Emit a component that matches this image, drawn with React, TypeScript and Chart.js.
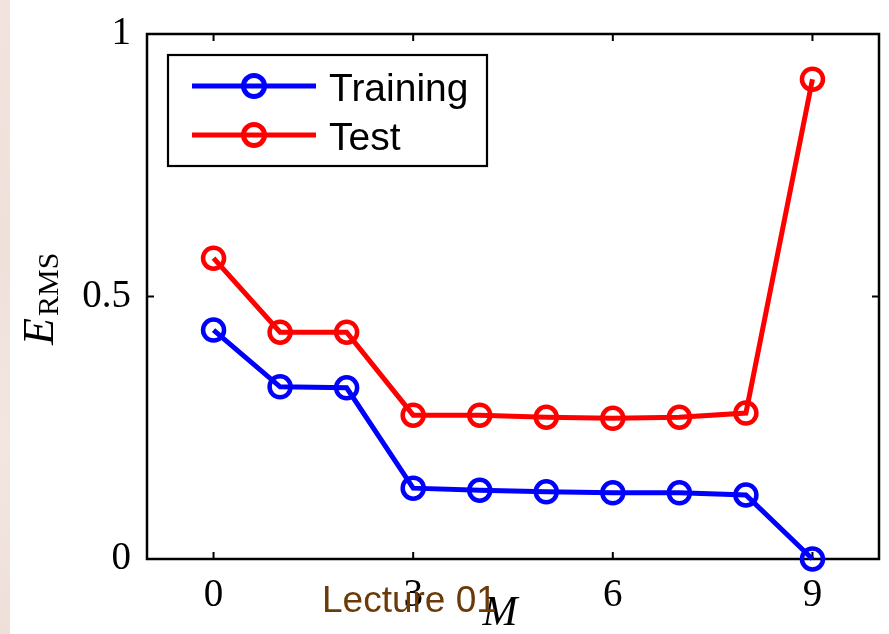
import React, { useEffect, useRef } from "react";
import { Chart, registerables } from "chart.js";

Chart.register(...registerables);

// ---- data ----
const modelOrders = [0, 1, 2, 3, 4, 5, 6, 7, 8, 9];
const trainingErr = [0.436, 0.328, 0.326, 0.135, 0.131, 0.128, 0.126, 0.126, 0.122, 0.0];
const testErr = [0.573, 0.432, 0.432, 0.274, 0.274, 0.27, 0.268, 0.27, 0.278, 0.914];
const xTickValues = [0, 3, 6, 9];
const yTickValues = [0, 0.5, 1];
const seriesLabels = ["Training", "Test"];
const seriesColors = ["#0000ff", "#ff0000"];
const xTitle = "M";
const yTitleMain = "E";
const yTitleSub = "RMS";
const footerText = "Lecture 01";

const SERIF = "'Liberation Serif', 'Times New Roman', serif";
const SANS = "'Liberation Sans', Arial, sans-serif";

const framePlugin = {
  id: "frame",
  beforeDatasetsDraw(chart: any) {
    const { ctx, chartArea: a, scales } = chart;
    ctx.save();
    ctx.strokeStyle = "#000";
    ctx.lineWidth = 2.5;
    ctx.strokeRect(a.left, a.top, a.right - a.left, a.bottom - a.top);
    ctx.lineWidth = 2;
    ctx.beginPath();
    for (const v of xTickValues) {
      const px = scales.x.getPixelForValue(v);
      ctx.moveTo(px, a.bottom);
      ctx.lineTo(px, a.bottom - 7);
      ctx.moveTo(px, a.top);
      ctx.lineTo(px, a.top + 7);
    }
    for (const v of yTickValues) {
      const py = scales.y.getPixelForValue(v);
      ctx.moveTo(a.left, py);
      ctx.lineTo(a.left + 7, py);
      ctx.moveTo(a.right, py);
      ctx.lineTo(a.right - 7, py);
    }
    ctx.stroke();
    ctx.restore();
  },
};

const overlayPlugin = {
  id: "overlay",
  afterDraw(chart: any) {
    const { ctx, chartArea: a } = chart;
    ctx.save();
    // legend box
    const bx = a.left + 21;
    const by = a.top + 21;
    ctx.fillStyle = "#fff";
    ctx.fillRect(bx, by, 319, 111);
    ctx.strokeStyle = "#000";
    ctx.lineWidth = 2.2;
    ctx.strokeRect(bx, by, 319, 111);
    const rows = [a.top + 52, a.top + 101];
    chart.data.datasets.forEach((ds: any, i: number) => {
      const y = rows[i];
      ctx.strokeStyle = ds.borderColor;
      ctx.lineWidth = 5;
      ctx.beginPath();
      ctx.moveTo(bx + 24, y);
      ctx.lineTo(bx + 148, y);
      ctx.stroke();
      ctx.beginPath();
      ctx.arc(bx + 86, y, 10.5, 0, Math.PI * 2);
      ctx.stroke();
      ctx.fillStyle = "#000";
      ctx.font = `39px ${SANS}`;
      ctx.textBaseline = "alphabetic";
      ctx.textAlign = "left";
      ctx.fillText(ds.label, bx + 161, y + 15);
    });

    // y title
    ctx.save();
    ctx.translate(53, 345);
    ctx.rotate(-Math.PI / 2);
    ctx.fillStyle = "#000";
    ctx.textAlign = "left";
    ctx.textBaseline = "alphabetic";
    ctx.font = `italic 44px ${SERIF}`;
    ctx.fillText(yTitleMain, 0, 0);
    ctx.font = `30px ${SERIF}`;
    ctx.fillText(yTitleSub, 29, 5);
    ctx.restore();

    // x title
    ctx.fillStyle = "#000";
    ctx.font = `italic 42px ${SERIF}`;
    ctx.textAlign = "center";
    ctx.textBaseline = "alphabetic";
    ctx.fillText(xTitle, 500, 625);

    // footer
    ctx.fillStyle = "#6b3a07";
    ctx.font = `37px ${SANS}`;
    ctx.textAlign = "left";
    ctx.fillText(footerText, 322, 612);
    ctx.restore();
  },
};

export default function App() {
  const ref = useRef<HTMLCanvasElement | null>(null);
  useEffect(() => {
    if (!ref.current) return;
    const mk = (vals: number[]) => modelOrders.map((m, i) => ({ x: m, y: vals[i] }));
    const chart = new Chart(ref.current, {
      type: "line",
      data: {
        datasets: [trainingErr, testErr].map((vals, i) => ({
          label: seriesLabels[i],
          data: mk(vals),
          borderColor: seriesColors[i],
          backgroundColor: "transparent",
          borderWidth: 5,
          pointRadius: 10.5,
          pointBorderWidth: 4.5,
          pointBorderColor: seriesColors[i],
          pointBackgroundColor: "transparent",
          tension: 0,
          clip: false,
        })) as any,
      },
      options: {
        animation: false,
        responsive: false,
        events: [],
        layout: { autoPadding: false, padding: { top: 34, right: 10, left: 0, bottom: 0 } },
        plugins: { legend: { display: false }, tooltip: { enabled: false } },
        scales: {
          x: {
            type: "linear",
            min: -1,
            max: 10,
            grid: { display: false, drawTicks: false },
            border: { display: false },
            afterBuildTicks: (s: any) => {
              s.ticks = xTickValues.map((v) => ({ value: v }));
            },
            afterFit: (s: any) => {
              s.height = 75;
              s.paddingLeft = 0;
              s.paddingRight = 0;
              s.paddingTop = 0;
              s.paddingBottom = 0;
            },
            ticks: {
              color: "#000",
              padding: 13,
              maxRotation: 0,
              autoSkip: false,
              font: { family: SERIF, size: 39 },
              callback: (v: any) => String(v),
            },
          },
          y: {
            type: "linear",
            min: 0,
            max: 1,
            grid: { display: false, drawTicks: false },
            border: { display: false },
            afterBuildTicks: (s: any) => {
              s.ticks = yTickValues.map((v) => ({ value: v }));
            },
            afterFit: (s: any) => {
              s.width = 147;
              s.paddingLeft = 0;
              s.paddingRight = 0;
              s.paddingTop = 0;
              s.paddingBottom = 0;
            },
            ticks: {
              color: "#000",
              padding: 16,
              autoSkip: false,
              font: { family: SERIF, size: 39 },
              callback: (v: any) => String(v),
            },
          },
        },
      },
      plugins: [framePlugin, overlayPlugin],
    });
    return () => chart.destroy();
  }, []);

  return (
    <div
      style={{
        position: "absolute",
        left: 0,
        top: 0,
        width: 889,
        height: 634,
        background: "#fff",
        overflow: "hidden",
      }}
    >
      <div
        style={{
          position: "absolute",
          left: 0,
          top: 0,
          width: 10,
          height: 634,
          background: "linear-gradient(180deg, #f2e3de, #efe0da 40%, #f3e6e1 70%, #eedfd9)",
        }}
      />
      <canvas
        ref={ref}
        width={889}
        height={634}
        style={{ position: "absolute", left: 0, top: 0, width: 889, height: 634 }}
      />
    </div>
  );
}
